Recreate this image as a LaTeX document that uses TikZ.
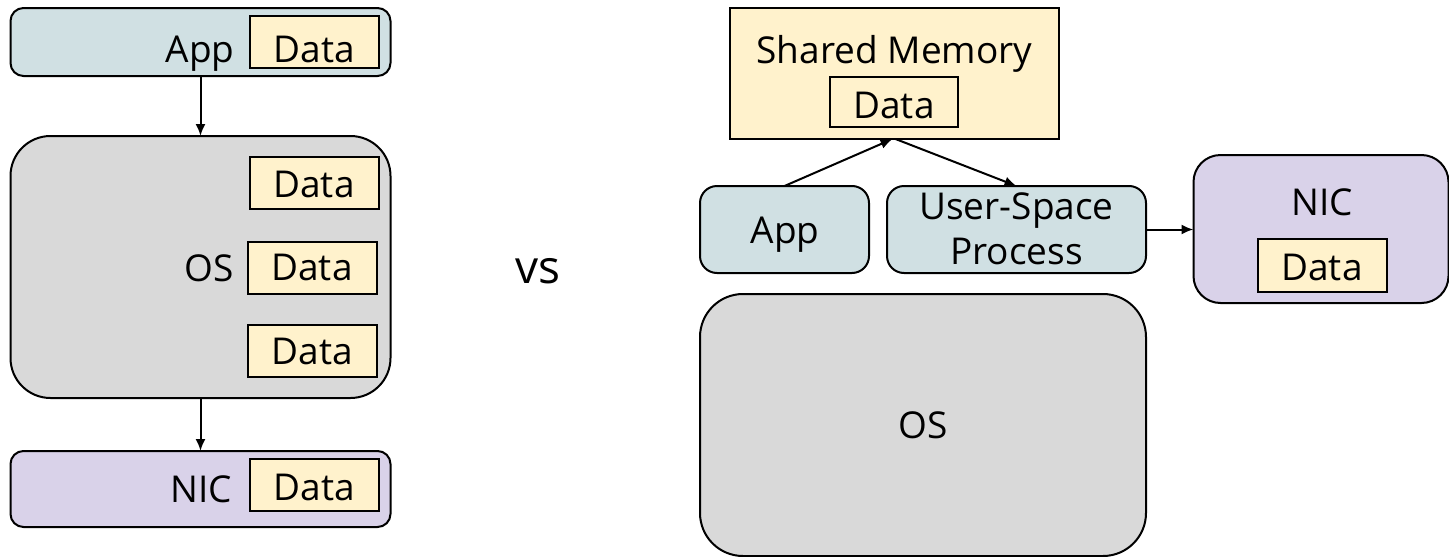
\documentclass[tikz,border=0pt]{standalone}
\usepackage{fontspec}
\setmainfont{Open Sans}
\usetikzlibrary{arrows.meta}
\definecolor{cblue}{HTML}{D0E0E3}
\definecolor{cyellow}{HTML}{FFF2CC}
\definecolor{cpurple}{HTML}{D9D2E9}
\definecolor{cgray}{HTML}{D9D9D9}
\begin{document}
\begin{tikzpicture}[x=1pt,y=-1pt,
  box/.style={draw=black, line width=2pt, inner sep=0pt, outer sep=0pt},
  databox/.style={box, fill=cyellow, minimum width=129, minimum height=52},
  lbl/.style={inner sep=0pt, outer sep=0pt, font=\fontsize{37}{45}\selectfont},
  arr/.style={line width=2pt, -{Latex[length=12pt,width=10pt]}}]
\useasboundingbox (0,0) rectangle (1449,557);
% ---------- left ----------
\node[box, fill=cblue, rounded corners=13, minimum width=380, minimum height=68] (lapp) at (200.5,42) {};
\node[box, fill=cgray, rounded corners=40, minimum width=380, minimum height=262] (los) at (200.5,267) {};
\node[box, fill=cpurple, rounded corners=13, minimum width=380, minimum height=76] (lnic) at (200.5,489) {};
\node[databox] (lappdata) at (314.5,42) {};
\node[databox] (losdata1) at (314,183) {};
\node[databox] (losdata2) at (312,267.5) {};
\node[databox] (losdata3) at (312.5,351) {};
\node[databox] (lnicdata) at (314.5,485) {};
\node[lbl, anchor=base] (lapptxt) at (200,62) {App};
\node[lbl, anchor=base] (lostxt) at (209,281) {OS};
\node[lbl, anchor=base] (lnictxt) at (201,502) {NIC};
\node[lbl, anchor=base] (lappdatatxt) at (314.5,62) {Data};
\node[lbl, anchor=base] (losdata1txt) at (314,197) {Data};
\node[lbl, anchor=base] (losdata2txt) at (312,280) {Data};
\node[lbl, anchor=base] (losdata3txt) at (312.5,364) {Data};
\node[lbl, anchor=base] (lnicdatatxt) at (314.5,500) {Data};
\draw[arr] (lapp.south) -- (los.north);
\draw[arr] (los.south) -- (lnic.north);
% ---------- vs ----------
\node[inner sep=0pt, anchor=base, font=\fontsize{46}{50}\selectfont] (vs) at (538,283) {vs};
% ---------- right ----------
\node[box, fill=cyellow, minimum width=329, minimum height=131] (sm) at (894.5,73.5) {};
\node[box, fill=cyellow, minimum width=128, minimum height=50] (smdata) at (894,102) {};
\node[lbl, anchor=base] (smtxt) at (894.5,63) {Shared Memory};
\node[lbl, anchor=base] (smdatatxt) at (894,118) {Data};
\node[box, fill=cblue, rounded corners=17, minimum width=169, minimum height=87] (rapp) at (784.5,229.5) {};
\node[box, fill=cblue, rounded corners=17, minimum width=259, minimum height=87] (usp) at (1016.5,229.5) {};
\node[box, fill=cpurple, rounded corners=27, minimum width=255, minimum height=148] (rnic) at (1321,229) {};
\node[box, fill=cgray, rounded corners=43, minimum width=446, minimum height=262] (ros) at (923,425) {};
\node[box, fill=cyellow, minimum width=129, minimum height=53] (rnicdata) at (1322,265.5) {};
\node[lbl, anchor=base] (rapptxt) at (785,243) {App};
\node[lbl, align=center, anchor=center] (usptxt) at (1016.5,229) {User-Space\\Process};
\node[lbl, anchor=base] (rnictxt) at (1322,215) {NIC};
\node[lbl, anchor=base] (rnicdatatxt) at (1322,280) {Data};
\node[lbl, anchor=base] (rostxt) at (923,438) {OS};
\draw[arr] (rapp.north) -- ([xshift=-2]sm.south);
\draw[arr] ([xshift=1]sm.south) -- (usp.north);
\draw[arr] (usp.east) -- (usp.east -| rnic.west);
\end{tikzpicture}
\end{document}
